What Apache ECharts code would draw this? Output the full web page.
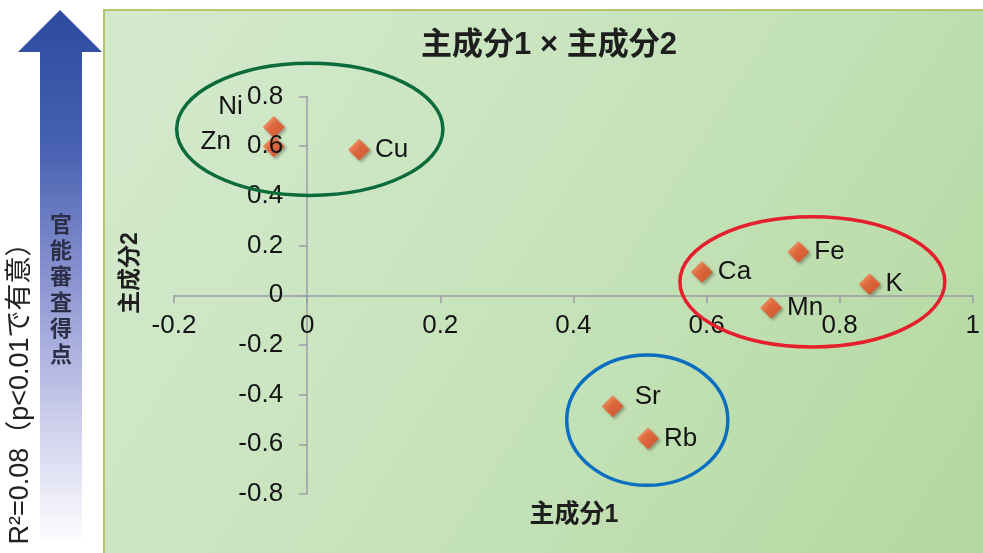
<!DOCTYPE html>
<html>
<head>
<meta charset="utf-8">
<script src="https://cdn.jsdelivr.net/npm/echarts@6/dist/echarts.min.js"></script>
<style>
  html, body { margin: 0; padding: 0; background: #ffffff; }
  #chart { width: 983px; height: 553px; }
</style>
</head>
<body>
<div id="chart"></div>
<script>
// Element loadings on the first two principal components
const elements = ['Ni', 'Zn', 'Cu', 'Ca', 'Fe', 'K', 'Mn', 'Sr', 'Rb'];
const pc1 = [-0.05, -0.05, 0.078, 0.593, 0.738, 0.845, 0.697, 0.459, 0.512];
const pc2 = [0.677, 0.600, 0.586, 0.094, 0.174, 0.044, -0.050, -0.447, -0.577];

// Cluster outlines, in axis units (centre and half-extents)
const clusterCx = [0.004, 0.759, 0.511];
const clusterCy = [0.668, 0.054, -0.503];
const clusterRx = [0.200, 0.199, 0.121];
const clusterRy = [0.266, 0.262, 0.262];
const clusterColors = ['#0b6b3a', '#e51f2b', '#0a6fc0'];

const FONT = '"Liberation Sans", Arial, "Noto Sans CJK JP", sans-serif';
const CJK = '"Noto Sans CJK JP", "Liberation Sans", sans-serif';
const INK = '#141414';

// label placement per element
const labelPlacement = {
  Ni: { position: 'left', offset: [-15, -20] },
  Zn: { position: 'left', offset: [-27, -4] },
  Sr: { position: 'right', offset: [6, -9] }
};

const points = elements.map((name, i) => {
  const p = labelPlacement[name] || { position: 'right', offset: [0, 0] };
  return {
    name: name,
    value: [pc1[i], pc2[i]],
    label: { position: p.position, offset: p.offset, color: INK, opacity: 1 }
  };
});

const chart = echarts.init(document.getElementById('chart'), null, { renderer: 'canvas' });

const axisLineStyle = { color: '#9d9ca6', width: 1.5 };
const GRID = { left: 174, right: 10, top: 96.5, bottom: 59 };

chart.setOption({
  animation: false,
  backgroundColor: '#ffffff',
  grid: GRID,
  xAxis: {
    type: 'value', min: -0.2, max: 1, interval: 0.2, z: 10,
    axisLine: { show: true, onZero: false, lineStyle: axisLineStyle },
    axisTick: { show: true, length: 8, lineStyle: axisLineStyle },
    splitLine: { show: false },
    axisLabel: { color: INK, fontSize: 26, fontFamily: FONT, margin: 18 }
  },
  yAxis: {
    type: 'value', min: -0.8, max: 0.8, interval: 0.2, z: 10,
    axisLine: { show: true, onZero: false, lineStyle: axisLineStyle },
    axisTick: { show: true, length: 8, lineStyle: axisLineStyle },
    splitLine: { show: false },
    axisLabel: { color: INK, fontSize: 26, fontFamily: FONT, margin: 24 }
  },
  series: [{
    type: 'scatter',
    symbol: 'diamond',
    symbolSize: 22,
    z: 5,
    itemStyle: {
      color: {
        type: 'linear', x: 0, y: 0, x2: 1, y2: 1,
        colorStops: [{ offset: 0, color: '#f88a5a' }, { offset: 0.5, color: '#f0572a' }, { offset: 1, color: '#d9431c' }]
      },
      shadowBlur: 3,
      shadowOffsetX: 2,
      shadowOffsetY: 2,
      shadowColor: 'rgba(40,40,20,0.45)'
    },
    label: {
      show: true,
      formatter: '{b}',
      color: INK,
      opacity: 1,
      textBorderWidth: 0,
      fontSize: 26,
      fontFamily: FONT
    },
    emphasis: { disabled: true },
    data: points
  }],
  graphic: [
    // panel behind the plot
    {
      type: 'rect', id: 'panel', z: -10, silent: true,
      shape: { x: 104, y: 10, width: 890, height: 560 },
      style: {
        fill: {
          type: 'linear', x: 0, y: 0, x2: 1, y2: 1,
          colorStops: [
            { offset: 0, color: '#d4eacd' },
            { offset: 0.5, color: '#c6e3bb' },
            { offset: 1, color: '#b2d79d' }
          ]
        },
        stroke: '#b7c46e', lineWidth: 2
      }
    },
    // arrow on the left
    {
      type: 'polygon', id: 'arrow', z: -10, silent: true,
      shape: { points: [[60, 10], [102, 52], [82, 52], [82, 545], [40, 545], [40, 52], [18, 52]] },
      style: {
        fill: {
          type: 'linear', x: 0, y: 0, x2: 0, y2: 1,
          colorStops: [
            { offset: 0, color: '#2c4b9f' },
            { offset: 0.25, color: '#4560b0' },
            { offset: 0.5, color: '#8a93d0' },
            { offset: 0.75, color: '#c9cbea' },
            { offset: 1, color: '#ffffff' }
          ]
        }
      }
    },
    {
      type: 'text', id: 'arrowText', z: 10, silent: true,
      x: 61, y: 289,
      style: {
        text: '官\n能\n審\n査\n得\n点',
        fill: '#2c2f48', font: 'bold 22px ' + CJK, lineHeight: 26,
        align: 'center', verticalAlign: 'middle'
      }
    },
    {
      type: 'text', id: 'r2', z: 10, silent: true,
      x: 21, y: 387, rotation: Math.PI / 2,
      style: {
        text: 'R²=0.08（p<0.01で有意）',
        fill: '#222222', font: '27px ' + FONT,
        align: 'center', verticalAlign: 'middle'
      }
    },
    {
      type: 'text', id: 'title', z: 10, silent: true,
      x: 549, y: 45,
      style: {
        text: '主成分1 × 主成分2',
        fill: '#1e1e1e', font: 'bold 31px ' + FONT,
        align: 'center', verticalAlign: 'middle'
      }
    },
    {
      type: 'text', id: 'xName', z: 10, silent: true,
      x: 574, y: 515,
      style: {
        text: '主成分1', fill: '#1e1e1e', font: 'bold 25px ' + FONT,
        align: 'center', verticalAlign: 'middle'
      }
    },
    {
      type: 'text', id: 'yName', z: 10, silent: true,
      x: 131, y: 273, rotation: Math.PI / 2,
      style: {
        text: '主成分2', fill: '#1e1e1e', font: 'bold 23px ' + FONT,
        align: 'center', verticalAlign: 'middle'
      }
    }
  ]
});

// Move each axis (line, ticks, labels) onto the other axis's zero
const origin = chart.convertToPixel({ gridIndex: 0 }, [0, 0]);
const gridLeft = GRID.left;
const gridBottom = 553 - GRID.bottom;
chart.setOption({
  xAxis: { offset: origin[1] - gridBottom },
  yAxis: { offset: gridLeft - origin[0] }
});

// Cluster outlines placed through the grid's own coordinate conversion
const outlines = clusterCx.map((cx, i) => {
  const c = chart.convertToPixel({ gridIndex: 0 }, [cx, clusterCy[i]]);
  const ex = chart.convertToPixel({ gridIndex: 0 }, [cx + clusterRx[i], clusterCy[i]]);
  const ey = chart.convertToPixel({ gridIndex: 0 }, [cx, clusterCy[i] + clusterRy[i]]);
  return {
    type: 'ellipse', id: 'cluster' + i, z: 20, silent: true,
    shape: { cx: c[0], cy: c[1], rx: ex[0] - c[0], ry: c[1] - ey[1] },
    style: { fill: 'none', stroke: clusterColors[i], lineWidth: 3.5 }
  };
});
chart.setOption({ graphic: outlines });
</script>
</body>
</html>
